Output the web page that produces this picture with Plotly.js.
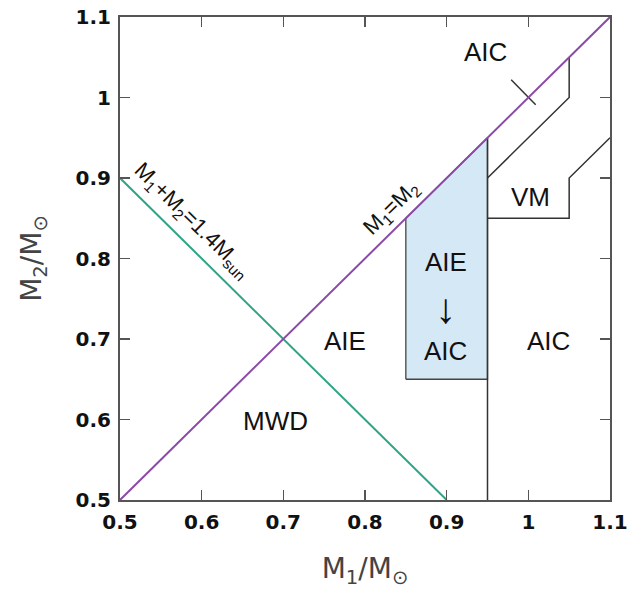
<!DOCTYPE html>
<html>
<head>
<meta charset="utf-8">
<script src="https://cdn.plot.ly/plotly-3.0.1.min.js"></script>
<style>html,body{margin:0;padding:0;background:#fff;}#plot{width:641px;height:589px;}</style>
</head>
<body>
<div id="plot"></div>
<script>
// Boundary lines (M1, M2 in solar masses)
var equalX = [0.5, 1.1];
var equalY = [0.5, 1.1];
var sumX = [0.5, 0.9];
var sumY = [0.9, 0.5];
// shaded AIE -> AIC region
var shadeX = [0.85, 0.95, 0.95, 0.85, 0.85];
var shadeY = [0.65, 0.65, 0.95, 0.85, 0.65];
// black boundaries
var wallX = [0.95, 0.95];
var wallY = [0.5, 0.95];
var upperX = [0.95, 1.05, 1.05];
var upperY = [0.9, 1.0, 1.05];
var vmX = [0.95, 1.05, 1.05, 1.1];
var vmY = [0.85, 0.85, 0.9, 0.95];
var markX = [0.979, 1.009];
var markY = [1.022, 0.991];
// region labels
var labelText = ['AIC', 'VM', 'AIE', 'MWD', 'AIC', 'AIE', 'AIC'];
var labelX = [0.947, 1.003, 0.775, 0.69, 1.025, 0.899, 0.899];
var labelY = [1.056, 0.877, 0.698, 0.598, 0.698, 0.796, 0.685];
var arrowText = '↓';
var arrowX = 0.899;
var arrowY = 0.74;
var tickVals = [0.5, 0.6, 0.7, 0.8, 0.9, 1, 1.1];

var dark = '#333333';
var traces = [
  {x: shadeX, y: shadeY, mode: 'lines', fill: 'toself', fillcolor: '#d5e8f6', line: {color: '#444444', width: 1.3}, hoverinfo: 'skip'},
  {x: wallX, y: wallY, mode: 'lines', line: {color: dark, width: 1.5}},
  {x: upperX, y: upperY, mode: 'lines', line: {color: dark, width: 1.5}},
  {x: vmX, y: vmY, mode: 'lines', line: {color: dark, width: 1.5}},
  {x: markX, y: markY, mode: 'lines', line: {color: dark, width: 1.5}},
  {x: sumX, y: sumY, mode: 'lines', line: {color: '#2fa385', width: 2}},
  {x: equalX, y: equalY, mode: 'lines', line: {color: '#8a4aa8', width: 2}}
];

var lblFont = 'Liberation Sans, Arial, sans-serif';
var annotations = labelText.map(function(t, i) {
  return {x: labelX[i], y: labelY[i], text: t, showarrow: false,
    font: {family: lblFont, size: 26, color: '#111'}};
});
annotations.push({x: arrowX, y: arrowY, text: arrowText, showarrow: false,
  font: {family: 'Noto Sans, sans-serif', size: 42, color: '#111'}});
annotations.push({x: 0.833, y: 0.863, text: 'M<sub>1</sub>=M<sub>2</sub>', showarrow: false, textangle: -44.5,
  font: {family: lblFont, size: 22, color: '#111'}});
annotations.push({x: 0.588, y: 0.846, text: 'M<sub>1</sub>+M<sub>2</sub>=1.4M<sub>sun</sub>', showarrow: false, textangle: 44.5,
  font: {family: lblFont, size: 22, color: '#111'}});

var axisCommon = {
  showgrid: false, zeroline: false, showline: true, linecolor: '#555', linewidth: 2,
  mirror: 'allticks', ticks: 'inside', ticklen: 10, tickwidth: 1.5, tickcolor: '#555',
  tickvals: tickVals,
  tickfont: {family: 'DejaVu Sans, sans-serif', size: 20, color: '#111', weight: 'bold'}
};

var layout = {
  width: 641, height: 589,
  margin: {l: 120, r: 31, t: 17, b: 89},
  paper_bgcolor: '#fff', plot_bgcolor: '#fff',
  showlegend: false,
  xaxis: Object.assign({}, axisCommon, {range: [0.5, 1.1], ticklabelstandoff: 3,
    title: {text: 'M<sub>1</sub>/M<sub>⊙</sub>', standoff: 26, font: {family: 'DejaVu Sans, sans-serif', size: 28, color: '#444'}}}),
  yaxis: Object.assign({}, axisCommon, {range: [0.5, 1.1], ticklabelstandoff: 3,
    title: {text: 'M<sub>2</sub>/M<sub>⊙</sub>', standoff: 26, font: {family: 'DejaVu Sans, sans-serif', size: 28, color: '#444'}}}),
  annotations: annotations
};

Plotly.newPlot('plot', traces, layout, {displayModeBar: false, staticPlot: true});
</script>
</body>
</html>
